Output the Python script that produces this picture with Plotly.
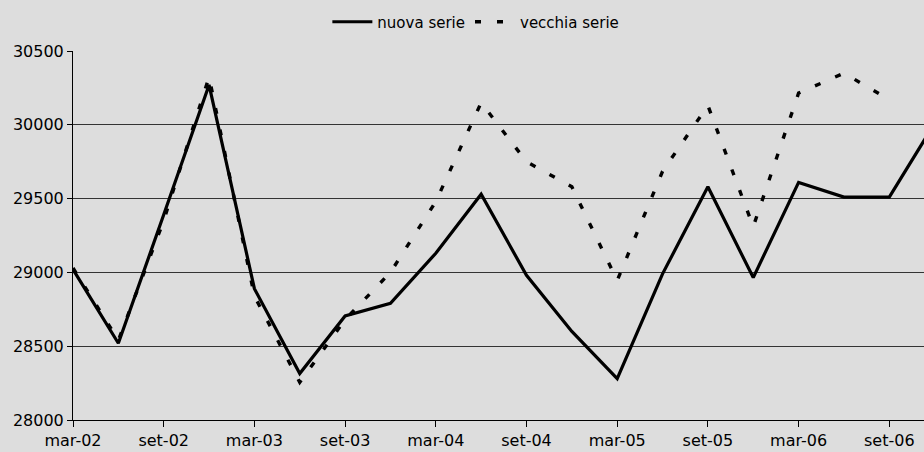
import plotly.graph_objects as go

# quarterly periods, mar-02 .. dic-06
quarters = [f"{m}-{y:02d}" for y in range(2, 7) for m in ["mar", "giu", "set", "dic"]]

nuova_serie = [29020, 28520, 29390, 30270, 28890, 28315, 28705, 28790, 29130, 29530,
               28980, 28600, 28280, 28990, 29580, 28965, 29610, 29510, 29510, 30010]
vecchia_serie = [29030, 28540, 29350, 30325, 28840, 28255, 28680, 29000, 29480, 30150,
                 29750, 29580, 28945, 29685, 30130, 29310, 30215, 30350, 30170]

tick_labels = quarters[::2]
y_ticks = [28000, 28500, 29000, 29500, 30000, 30500]

BG = "#DDDDDD"
FONT = "DejaVu Sans"

fig = go.Figure()
fig.add_trace(go.Scatter(x=quarters, y=nuova_serie, mode="lines", name="nuova serie",
                         line=dict(color="black", width=3.2)))
fig.add_trace(go.Scatter(x=quarters[:len(vecchia_serie)], y=vecchia_serie, mode="lines",
                         name="vecchia serie",
                         line=dict(color="black", width=3.4, dash="6px,16px")))

fig.update_layout(
    width=924, height=452,
    margin=dict(l=73, r=0, t=51, b=32),
    paper_bgcolor=BG, plot_bgcolor=BG,
    font=dict(family=FONT, size=16, color="black"),
    showlegend=True,
    legend=dict(orientation="h", xref="container", yref="container",
                x=0.515, y=1 - 22 / 452, xanchor="center", yanchor="middle",
                font=dict(size=15), bgcolor="rgba(0,0,0,0)", itemwidth=40),
)
fig.update_xaxes(
    type="category", categoryorder="array", categoryarray=quarters,
    range=[0, (924 - 73) / 45.35],
    tickmode="array", tickvals=tick_labels, ticktext=tick_labels,
    ticks="outside", ticklen=6, tickcolor="black",
    showline=True, linecolor="black", linewidth=1,
    showgrid=False, zeroline=False, automargin=False,
)
fig.update_yaxes(
    range=[28000, 30500], tickmode="array", tickvals=y_ticks,
    ticktext=[str(v) for v in y_ticks],
    ticks="outside", ticklen=5, tickcolor="black",
    showline=True, linecolor="black", linewidth=1,
    showgrid=True, gridcolor="#333333", gridwidth=1, zeroline=False, automargin=False,
)

# drop the default body margin so the chart fills the window
fig.write_html("out.html", config={"displayModeBar": False},
               post_script="document.body.style.margin='0';"
                           "document.body.style.background='#DDDDDD';")
